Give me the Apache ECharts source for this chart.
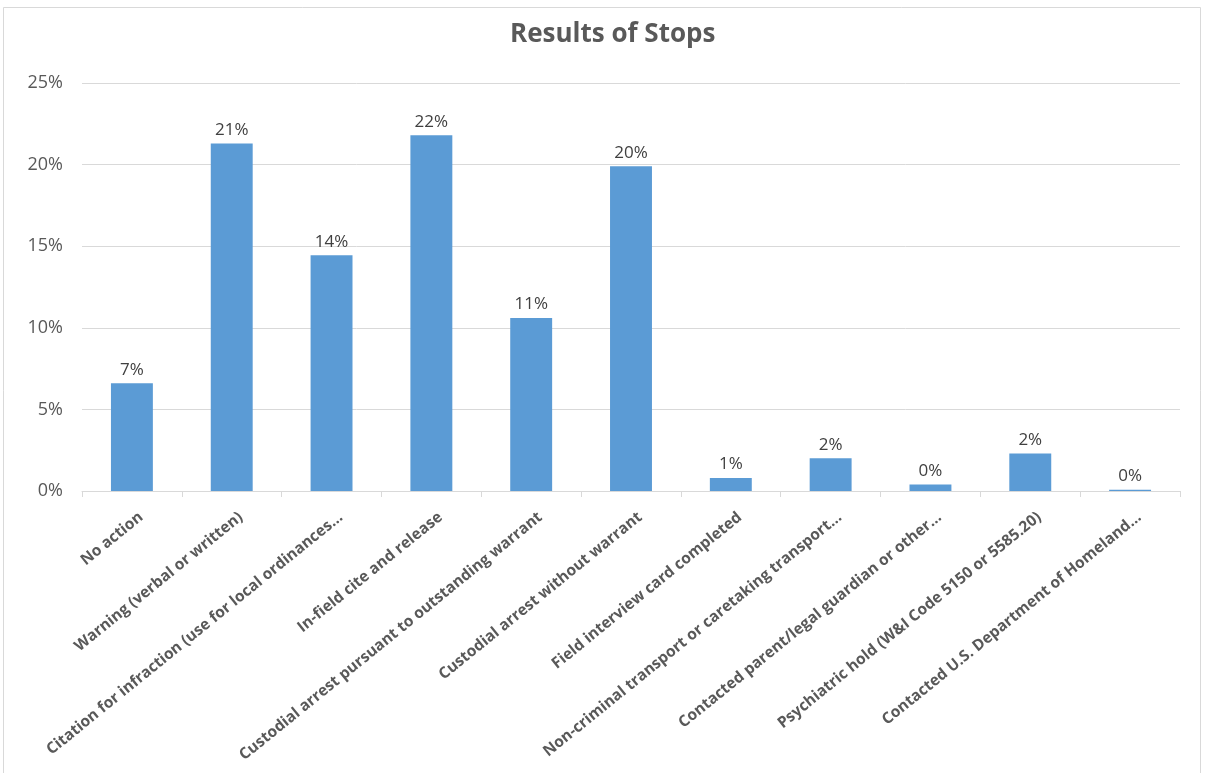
<!DOCTYPE html>
<html><head><meta charset="utf-8">
<script src="https://cdn.jsdelivr.net/npm/echarts@6/dist/echarts.min.js"></script>
<style>html,body{margin:0;padding:0;background:#fff}#c{width:1206px;height:773px}</style>
</head><body><div id="c"></div>
<script>
const categories = [
  "No action",
  "Warning (verbal or written)",
  "Citation for infraction (use for local ordinances…",
  "In-field cite and release",
  "Custodial arrest pursuant to outstanding warrant",
  "Custodial arrest without warrant",
  "Field interview card completed",
  "Non-criminal transport or caretaking transport…",
  "Contacted parent/legal guardian or other…",
  "Psychiatric hold (W&I Code 5150 or 5585.20)",
  "Contacted U.S. Department of Homeland…"
];
const values = [6.6, 21.3, 14.45, 21.8, 10.6, 19.9, 0.8, 2.0, 0.4, 2.3, 0.07];
const yTicks = [0, 5, 10, 15, 20, 25];

const chart = echarts.init(document.getElementById('c'), null, {renderer: 'canvas'});
const font = '"Open Sans", "Liberation Sans", sans-serif';
chart.setOption({
  backgroundColor: '#fff',
  animation: false,
  title: {
    text: 'Results of Stops', left: 505, top: 17,
    textStyle: {fontFamily: font, fontSize: 26, fontWeight: 'bold', color: '#595959'}
  },
  graphic: [{
    type: 'rect', shape: {x: 3.5, y: 7.5, width: 1197, height: 770},
    style: {fill: 'none', stroke: '#d9d9d9', lineWidth: 1}, silent: true
  }],
  grid: {left: 82, right: 26, top: 83, bottom: 282},
  xAxis: {
    type: 'category', data: categories,
    axisLine: {lineStyle: {color: '#d9d9d9', width: 1}},
    axisTick: {show: true, length: 6, lineStyle: {color: '#d9d9d9'}},
    axisLabel: {
      interval: 0, rotate: 39, margin: 13,
      verticalAlign: 'top', lineHeight: 29,
      fontFamily: font, fontSize: 15.5, fontWeight: 'bold', color: '#595959'
    }
  },
  yAxis: {
    type: 'value', min: yTicks[0], max: yTicks[yTicks.length - 1], interval: 5,
    axisLine: {show: false}, axisTick: {show: false},
    splitLine: {lineStyle: {color: '#d9d9d9', width: 1}},
    axisLabel: {
      formatter: v => v + '%', margin: 19,
      fontFamily: font, fontSize: 18, color: '#595959'
    }
  },
  series: [{
    type: 'bar', data: values, barWidth: '42%',
    itemStyle: {color: '#5b9bd5'},
    label: {
      show: true, position: 'top', distance: 5,
      formatter: p => Math.round(p.value) + '%',
      fontFamily: font, fontSize: 17, color: '#404040'
    }
  }]
});
</script>
</body></html>
